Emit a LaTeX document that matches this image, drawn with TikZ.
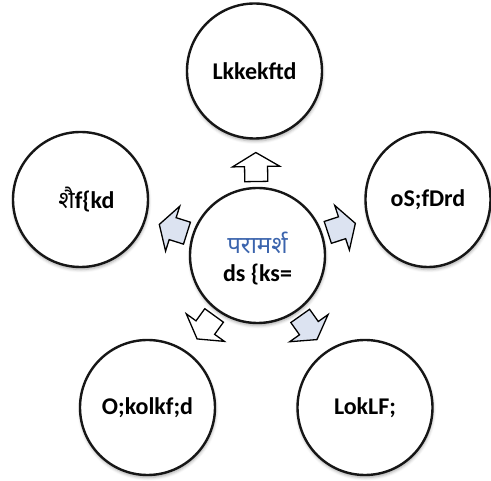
\documentclass[tikz,border=0pt]{standalone}
\usepackage{fontspec}
\setmainfont{Carlito}
\newfontfamily\deva[Script=Devanagari]{Noto Sans}
\usetikzlibrary{calc,shapes.geometric,shadows.blur}
\definecolor{ring}{HTML}{161616}
\definecolor{ablue}{HTML}{DCE3F1}
\definecolor{tblue}{HTML}{3B64AD}
\begin{document}
\begin{tikzpicture}[x=1pt,y=-1pt,
  softshadow/.style={blur shadow={shadow xshift=0.5pt, shadow yshift=-2.5pt, shadow blur radius=3pt, shadow opacity=35}},
  txt/.style={align=center, font=\fontsize{24}{30}\selectfont\bfseries},
  circ/.style={circle, draw=ring, line width=2.4pt, fill=white, minimum size=135pt, inner sep=0pt, txt, softshadow},
  ell/.style={ellipse, draw=ring, line width=2.4pt, fill=white, minimum width=125pt, minimum height=135pt, inner sep=0pt,
    txt, softshadow},
  blockarrow/.pic={\draw[pic actions] (14,0) -- (0,-23.5) -- (0,-11.5) -- (-15,-11.5) -- (-15,11.5) -- (0,11.5) -- (0,23.5) -- cycle;},
  warr/.style={draw=black, line width=1.3pt, fill=white, line join=miter,
    blur shadow={shadow xshift=0.5pt, shadow yshift=-1.5pt, shadow blur radius=1.5pt, shadow opacity=30}},
  barr/.style={draw=black, line width=1.3pt, fill=ablue, line join=miter,
    blur shadow={shadow xshift=0.5pt, shadow yshift=-1.5pt, shadow blur radius=1.5pt, shadow opacity=30}}]
\useasboundingbox (0,0) rectangle (491,481);

\node[circ] (c) at (257.5,255.5) {};
\node[txt, yshift=-3pt] (ctext) at (c) {\textcolor{tblue}{\deva\mdseries परामर्श}\\[-2pt]ds \{ks=};
\node[circ] (t) at (254.5,71) {Lkkekftd};
\node[circ] (l) at (80.5,199.5) {\hspace*{12pt}{\deva शै}f\{kd};
\node[ell] (r) at (428,199.5) {oS;fDrd};
\node[circ] (bl) at (147.5,407.5) {O;kolkf;d};
\node[circ] (br) at (365,407.5) {LokLF;};

\foreach \tg/\st in {t/warr, l/barr, r/barr, bl/warr, br/barr}
  \path let \p1=($(\tg)-(c)$), \n1={atan2(\y1,\x1)} in
    pic[\st, rotate=\n1] at ($(c)!89pt!(\tg)$) {blockarrow};
\end{tikzpicture}
\end{document}
